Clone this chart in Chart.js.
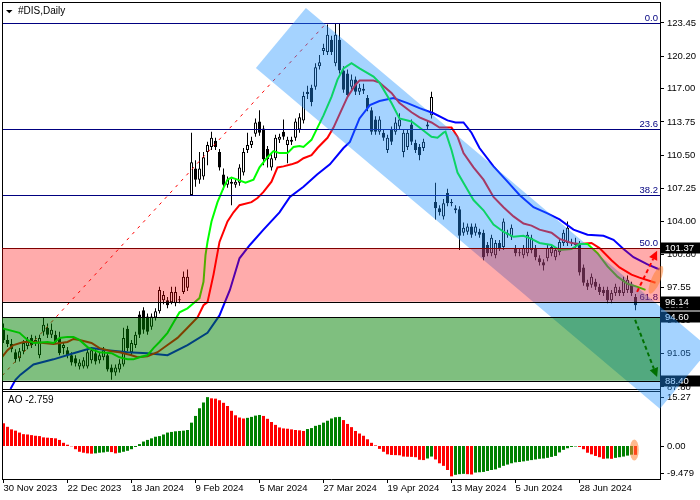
<!DOCTYPE html>
<html lang="en">
<head>
<meta charset="UTF-8" />
<title>#DIS,Daily</title>
<script src="https://cdn.jsdelivr.net/npm/chart.js"></script>
<style>
  html, body { margin: 0; padding: 0; background: #fff; }
  canvas { display: block; }
</style>
</head>
<body>
<canvas id="chart" width="700" height="500"></canvas>
<script>
// time axis: bar index of each labelled date
const dateTickBars = [0, 16, 32, 48, 64, 80, 96, 112, 128, 144];
const dateLabels = ["30 Nov 2023", "22 Dec 2023", "18 Jan 2024", "9 Feb 2024", "5 Mar 2024",
  "27 Mar 2024", "19 Apr 2024", "13 May 2024", "5 Jun 2024", "28 Jun 2024"];
const priceTicks = [123.45, 120.20, 117.00, 113.75, 110.50, 107.25, 104.00, 100.80, 97.55, 94.30, 91.05, 87.80];
const aoTicks = [15.27, 0, -9.479];
const aoTickLabels = ["15.27", "0.00", "-9.479"];

// daily candles
const opens = [
  93.6, 92.4, 92.0, 91.2, 90.6, 91.3, 91.8, 92.6, 92.1, 90.9,
  93.2, 93.6, 92.9, 92.9, 92.6, 91.6, 91.4, 90.9, 90.6, 89.8,
  89.8, 89.8, 90.4, 91.1, 90.4, 90.7, 90.9, 89.7, 89.2, 89.5,
  90.0, 93.5, 91.2, 91.9, 94.9, 95.3, 94.7, 93.7, 94.6, 95.2,
  96.3, 96.3, 96.1, 96.0, 96.3, 97.1, 97.5, 106.6, 109.2, 108.1,
  108.4, 110.8, 111.3, 111.9, 110.8, 108.6, 107.6, 107.9, 107.6, 107.8,
  108.8, 111.0, 111.5, 112.6, 113.8, 113.1, 111.1, 109.3, 110.2, 112.0,
  112.8, 111.5, 112.0, 112.2, 113.0, 113.9, 116.7, 117.1, 117.2, 119.2,
  120.7, 120.6, 121.8, 119.5, 121.8, 118.8, 118.5, 117.2, 117.9, 116.7,
  117.0, 116.1, 114.9, 114.0, 112.8, 112.7, 111.0, 113.0, 112.8, 113.3,
  110.8, 111.3, 113.5, 111.7, 111.3, 111.2, 113.3, 114.4, 105.9, 105.3,
  104.5, 106.8, 105.9, 105.3, 105.2, 102.9, 103.0, 103.5, 102.9, 103.0,
  102.9, 101.7, 100.9, 100.7, 101.9, 101.5, 102.9, 102.5, 101.4, 101.0,
  100.7, 100.9, 101.2, 101.4, 100.4, 100.0, 100.4, 100.9, 100.5, 101.0,
  101.9, 101.9, 102.0, 101.9, 101.9, 99.5, 98.0, 97.8, 98.1, 97.6,
  97.3, 97.3, 96.3, 97.0, 97.3, 97.0, 97.3, 97.8, 96.6
];
const highs = [
  94.0, 92.9, 92.5, 91.5, 91.6, 92.4, 92.7, 92.9, 92.8, 92.9,
  94.6, 94.0, 94.0, 93.3, 93.2, 92.1, 91.7, 91.2, 90.9, 90.5,
  90.7, 91.5, 91.7, 91.5, 91.2, 91.7, 91.2, 90.0, 90.0, 90.5,
  93.6, 93.8, 92.4, 93.2, 95.2, 95.6, 95.0, 95.0, 95.5, 97.6,
  97.2, 96.6, 97.6, 97.6, 96.7, 99.1, 99.3, 112.7, 110.0, 110.8,
  110.8, 111.8, 112.8, 112.2, 111.1, 109.2, 108.4, 108.2, 108.2, 109.6,
  111.2, 112.7, 112.3, 114.1, 114.9, 113.4, 111.4, 110.6, 112.5, 112.6,
  114.0, 112.3, 112.3, 114.1, 114.6, 116.7, 117.3, 117.4, 119.5, 120.3,
  121.4, 123.3, 122.2, 123.45, 123.45, 119.2, 118.9, 118.4, 118.2, 117.5,
  117.5, 116.4, 115.2, 114.3, 114.3, 113.0, 112.5, 113.3, 114.2, 114.6,
  113.0, 113.0, 114.0, 112.0, 111.6, 112.1, 113.9, 116.7, 107.8, 105.6,
  106.2, 107.2, 106.2, 105.6, 105.5, 103.9, 103.8, 103.8, 103.8, 103.3,
  103.2, 102.0, 102.7, 102.2, 102.2, 104.3, 103.2, 103.7, 101.7, 101.3,
  101.7, 103.0, 102.7, 101.7, 100.7, 100.3, 101.7, 101.8, 101.5, 102.3,
  103.2, 104.0, 102.3, 102.4, 102.1, 99.8, 98.3, 98.9, 98.4, 97.9,
  97.6, 97.6, 97.3, 97.9, 97.6, 98.6, 98.7, 98.1, 96.9
];
const lows = [
  92.1, 91.7, 91.2, 90.2, 90.3, 91.0, 91.5, 91.6, 91.8, 90.6,
  92.8, 92.6, 92.6, 92.0, 90.9, 91.0, 90.6, 89.9, 89.8, 89.5,
  89.6, 89.6, 90.1, 90.0, 90.1, 90.4, 89.3, 88.5, 88.9, 89.2,
  89.8, 91.3, 90.9, 91.6, 92.6, 93.0, 92.9, 93.4, 94.3, 95.0,
  95.9, 95.5, 95.9, 95.7, 96.0, 96.9, 97.2, 106.5, 107.4, 107.7,
  108.1, 109.5, 111.0, 111.0, 109.0, 107.1, 107.3, 105.6, 107.3, 107.5,
  108.5, 110.7, 111.2, 112.3, 112.4, 109.5, 109.3, 109.0, 110.0, 111.7,
  112.0, 109.7, 111.5, 111.9, 112.7, 113.6, 116.0, 115.3, 116.9, 118.9,
  120.3, 120.3, 120.3, 119.2, 118.5, 116.6, 116.1, 116.9, 116.4, 116.4,
  116.5, 114.8, 112.5, 112.5, 112.5, 111.9, 110.7, 111.5, 112.5, 113.0,
  110.3, 111.0, 111.5, 110.7, 110.0, 110.9, 113.0, 114.1, 104.2, 104.6,
  104.2, 105.5, 105.5, 104.8, 101.2, 102.6, 102.7, 102.4, 102.6, 102.4,
  100.2, 100.6, 100.6, 100.4, 101.1, 101.2, 102.4, 102.2, 100.6, 100.6,
  100.4, 100.6, 100.9, 100.2, 99.7, 99.2, 100.1, 100.6, 100.2, 100.7,
  101.6, 101.6, 101.6, 101.4, 98.7, 97.7, 97.3, 97.5, 97.3, 96.8,
  96.7, 96.0, 96.0, 96.7, 96.7, 96.7, 97.0, 96.7, 95.3
];
const closes = [
  92.4, 92.0, 91.5, 90.5, 91.3, 92.1, 92.4, 91.9, 92.4, 92.6,
  93.9, 92.9, 93.4, 92.2, 91.1, 91.9, 90.9, 90.2, 90.1, 90.2,
  90.4, 91.2, 91.4, 90.3, 90.9, 91.4, 89.5, 89.2, 89.7, 90.1,
  92.6, 91.6, 92.1, 92.9, 92.9, 93.4, 93.2, 94.7, 95.2, 97.3,
  96.8, 95.8, 97.1, 97.1, 96.3, 98.6, 98.6, 109.8, 108.1, 109.2,
  110.3, 111.5, 112.2, 111.3, 109.3, 107.6, 108.1, 107.7, 107.9, 109.3,
  110.8, 111.5, 111.9, 113.7, 112.7, 110.1, 110.1, 110.2, 112.2, 112.3,
  112.3, 112.0, 111.8, 113.8, 114.2, 116.3, 116.5, 115.7, 119.1, 119.6,
  121.0, 122.3, 120.6, 122.3, 118.8, 116.9, 116.4, 117.9, 116.7, 117.1,
  116.8, 115.1, 112.8, 112.8, 114.0, 112.2, 112.2, 111.8, 113.7, 114.0,
  112.7, 112.7, 111.8, 111.0, 110.5, 111.8, 113.5, 116.2, 105.3, 104.9,
  105.8, 105.8, 105.8, 105.1, 102.6, 103.4, 103.5, 102.7, 103.5, 102.7,
  100.5, 100.9, 102.4, 101.9, 101.4, 104.0, 102.7, 103.4, 100.9, 100.9,
  101.4, 102.7, 102.4, 100.5, 100.0, 99.7, 101.4, 101.5, 101.2, 102.0,
  102.9, 103.4, 101.9, 101.7, 99.0, 98.0, 97.6, 98.6, 97.6, 97.1,
  97.0, 96.3, 97.0, 97.6, 97.0, 98.3, 98.3, 97.0, 95.8
];

// Awesome Oscillator, one value per bar
const ao = [
  7.1, 6.0, 5.2, 4.8, 4.2, 3.7, 3.6, 3.4, 3.2, 3.1,
  2.7, 2.6, 2.5, 2.4, 1.9, 1.0, 0.4, -0.1, -1.0, -1.8,
  -2.1, -2.3, -2.4, -2.3, -2.1, -2.0, -1.8, -1.9, -2.3, -2.1,
  -1.8, -1.5, -1.0, -0.3, 0.6, 1.4, 1.9, 2.4, 2.9, 3.1,
  3.6, 4.2, 4.4, 4.6, 4.7, 4.8, 5.0, 7.3, 9.4, 11.8,
  13.6, 15.27, 14.9, 14.8, 14.3, 13.5, 12.5, 11.0, 9.6, 8.9,
  8.6, 8.8, 9.1, 9.5, 9.7, 9.4, 8.5, 7.5, 6.6, 5.8,
  5.5, 5.4, 5.2, 5.0, 4.9, 4.7, 5.3, 5.6, 6.3, 6.6,
  7.3, 7.9, 8.6, 9.0, 9.1, 8.1, 6.9, 5.9, 4.7, 3.9,
  3.2, 2.1, 1.0, 0.2, -0.9, -1.8, -2.6, -2.8, -2.85, -2.9,
  -3.3, -3.35, -3.4, -3.5, -4.3, -4.4, -3.9, -3.3, -4.2, -5.4,
  -6.2, -7.5, -9.479, -9.0, -8.8, -8.7, -8.8, -8.9, -8.3, -8.2,
  -8.1, -7.8, -7.5, -7.3, -6.8, -6.2, -5.8, -5.4, -5.1, -5.0,
  -4.8, -4.6, -4.4, -4.2, -4.0, -3.9, -3.7, -3.4, -3.1, -2.0,
  -1.2, -0.7, -0.3, -0.15, -0.3, -1.0, -2.1, -2.6, -3.1, -3.5,
  -4.0, -3.9, -4.0, -3.7, -3.5, -3.3, -3.0, -2.7, -2.759
];

// Alligator lines: [bar index, price]
const lips = [
  [-1, 93.6], [4, 93.1], [6, 92.4], [7.5, 92.1], [11, 92.2], [12.5, 92.1], [14, 92.6], [16, 92.7],
  [17.5, 92.7], [19, 92.4], [21, 91.7], [22.5, 91.4], [24, 91.2], [27, 91.1], [29, 90.7], [31, 90.5],
  [32.5, 90.5], [34, 90.7], [36, 90.9], [37.5, 91.6], [39, 92.2], [41, 93.1], [42.5, 94.1], [44, 95.1],
  [46, 95.5], [47.5, 96.0], [49, 96.5], [50, 98.1], [50.5, 100.7], [51, 102.0], [52, 104.0], [53.5, 105.9],
  [55, 107.3], [56, 108.1], [57, 108.3], [58.5, 108.1], [60.5, 107.8], [62.5, 108.1], [64, 109.3], [66, 110.3],
  [67.5, 110.9], [69, 110.7], [71, 110.7], [72.5, 111.3], [74, 111.4], [75, 111.3], [77, 112.0], [78.5, 113.2],
  [80, 114.4], [82, 116.2], [83.5, 117.9], [85, 119.0], [87, 119.5], [89, 119.0], [92.5, 118.2], [94, 117.6],
  [97, 115.6], [99, 114.1], [102, 113.8], [104, 113.2], [107, 112.3], [108.5, 112.2], [110, 112.7], [110.5, 112.8],
  [112, 111.0], [113.5, 108.8], [116, 107.1], [117.5, 106.1], [120, 105.1], [122.5, 103.7], [125, 103.0], [127.5, 102.5],
  [130, 102.6], [132, 102.3], [134, 101.9], [137, 101.7], [139, 101.2], [142, 101.3], [144, 101.8], [146, 101.8],
  [148.5, 100.9], [151, 99.6], [153.5, 98.6], [156, 97.9], [158.5, 97.6], [160.5, 97.3]
];
const teeth = [
  [-1, 90.4], [1, 91.4], [2.5, 91.9], [5, 92.2], [7.5, 92.2], [10, 92.1], [12.5, 92.0], [16, 92.2],
  [17.5, 92.5], [19, 92.4], [22, 92.1], [24, 91.6], [27, 91.3], [29, 91.2], [32, 90.9], [33.5, 90.7],
  [36, 90.8], [38.5, 91.2], [41, 91.9], [43.5, 92.6], [46, 93.6], [48.5, 94.6], [50, 95.8], [51, 96.1],
  [52.5, 98.8], [54, 102.0], [56, 104.0], [57.5, 104.9], [59, 105.6], [62, 105.9], [63.5, 106.3], [65, 106.9],
  [67, 107.9], [68.5, 109.3], [70, 109.4], [72, 109.6], [73.5, 109.8], [75, 110.2], [77, 110.5], [78.5, 111.2],
  [81, 112.2], [82.5, 113.2], [84, 114.5], [86, 116.2], [88, 117.4], [89, 117.8], [92.5, 117.8], [94, 117.6],
  [97, 116.6], [99, 115.6], [102, 114.7], [104, 114.2], [107, 113.7], [109, 113.2], [112, 113.2], [113.5, 112.3],
  [115, 110.7], [117.5, 109.3], [120, 108.1], [122.5, 106.4], [125, 105.4], [127.5, 104.5], [130, 103.8], [132, 103.6],
  [134, 103.2], [137, 102.9], [139, 102.3], [142, 101.9], [144, 101.8], [147, 101.9], [149, 101.4], [152, 100.2],
  [154, 99.5], [157, 98.8], [159, 98.5], [163, 98.0]
];
const jaw = [
  [1.75, 87.6], [3, 88.5], [4.25, 89.0], [7.5, 90.0], [12.5, 90.5], [17.5, 91.1], [22, 91.6], [26, 91.4],
  [31, 91.2], [36, 91.1], [41, 90.9], [46, 91.9], [51, 93.1], [54, 94.8], [56.6, 97.3], [59, 100.4],
  [61.6, 101.7], [65, 103.2], [69, 104.9], [71.6, 106.4], [75, 107.4], [78.4, 108.6], [81.6, 109.6], [85, 111.2],
  [86.6, 111.8], [89, 114.1], [91.6, 115.4], [94, 115.8], [97.5, 116.1], [101, 115.6], [104, 115.1], [107.5, 114.6],
  [111, 113.9], [113, 113.7], [115, 113.7], [117, 112.7], [119, 111.2], [122.5, 109.4], [126, 107.9], [129, 106.6],
  [132.5, 105.4], [136, 104.8], [139, 104.2], [142.5, 103.2], [146, 102.7], [150, 102.6], [152.5, 102.2], [155, 101.3],
  [157.5, 100.5], [161, 99.8], [164, 99.3]
];

// drawing objects on the chart
const fibHigh = 123.45;
const fibLow = 79.29;
const fibLevels = [0, 23.6, 38.2, 50, 61.8];
const fibTrend = [[-3, 87.76], [80.75, 123.45]];
const channel = [[75.6, 124.92], [63.1, 119.04], [164.1, 85.66], [176.6, 91.54]];
const sellZone = [96.14, 101.37];
const buyZone = [88.40, 94.60];
const priceBoxes = [95.84, 101.37, 96.14, 94.60, 88.40];
const upArrow = [[158.4, 97.11], [163.4, 101.13]];
const downArrow = [[157.9, 94.37], [163.4, 88.76]];
const priceMarker = [163.1, 98.29];
const aoMarker = [157.7, -1.25];
const priceFloor = 87.6;
const aoLast = -2.759;

const FONT = "'Liberation Sans', Arial, sans-serif";
Chart.defaults.font.family = FONT;
Chart.defaults.font.size = 9.5;
Chart.defaults.color = '#000';

const bars = opens.map((_, i) => i);
const toPts = arr => arr.map(([i, p]) => ({ x: i, y: p }));

function drawArrow(ctx, x0, y0, x1, y1, color) {
  const ang = Math.atan2(y1 - y0, x1 - x0);
  const head = 9;
  const bx = x1 - head * Math.cos(ang), by = y1 - head * Math.sin(ang);
  ctx.save();
  ctx.strokeStyle = color;
  ctx.fillStyle = color;
  ctx.lineWidth = 2;
  ctx.setLineDash([4, 3]);
  ctx.beginPath(); ctx.moveTo(x0, y0); ctx.lineTo(bx, by); ctx.stroke();
  ctx.setLineDash([]);
  ctx.beginPath();
  ctx.moveTo(x1, y1);
  ctx.lineTo(bx + 4.5 * Math.sin(ang), by - 4.5 * Math.cos(ang));
  ctx.lineTo(bx - 4.5 * Math.sin(ang), by + 4.5 * Math.cos(ang));
  ctx.closePath();
  ctx.fill();
  ctx.restore();
}

const overlay = {
  id: 'overlay',
  afterDraw(chart) {
    const { ctx, chartArea: a, scales } = chart;
    const px = v => scales.x.getPixelForValue(v);
    const py = v => scales.y.getPixelForValue(v);
    const pao = v => scales.yAO.getPixelForValue(v);
    const crisp = v => Math.round(v) + 0.5;
    const mainBottom = Math.round(py(priceFloor));
    const aoTop = mainBottom + 2;
    const font = '9.5px ' + FONT;
    const clipMain = () => {
      ctx.beginPath();
      ctx.rect(a.left, a.top, a.right - a.left, mainBottom - a.top);
      ctx.clip();
    };

    // fibonacci levels + trend line
    ctx.save();
    clipMain();
    ctx.lineWidth = 1;
    ctx.strokeStyle = '#000080';
    ctx.fillStyle = '#000080';
    ctx.font = font;
    ctx.textAlign = 'right';
    fibLevels.forEach(lv => {
      const yy = crisp(py(fibHigh - lv / 100 * (fibHigh - fibLow)));
      ctx.beginPath(); ctx.moveTo(a.left, yy); ctx.lineTo(a.right, yy); ctx.stroke();
      ctx.fillText(lv.toFixed(1), a.right - 2, yy - 2.5);
    });
    ctx.strokeStyle = '#ff0000';
    ctx.setLineDash([3, 5]);
    ctx.beginPath();
    ctx.moveTo(px(fibTrend[0][0]), py(fibTrend[0][1]));
    ctx.lineTo(px(fibTrend[1][0]), py(fibTrend[1][1]));
    ctx.stroke();
    ctx.restore();

    // panel frames
    ctx.save();
    ctx.strokeStyle = '#000';
    ctx.lineWidth = 1;
    ctx.beginPath();
    ctx.moveTo(crisp(a.left), a.top); ctx.lineTo(crisp(a.left), a.bottom);
    ctx.moveTo(a.left, crisp(a.top)); ctx.lineTo(a.right, crisp(a.top));
    ctx.moveTo(a.left, mainBottom + 0.5); ctx.lineTo(a.right, mainBottom + 0.5);
    ctx.moveTo(a.left, aoTop + 0.5); ctx.lineTo(a.right, aoTop + 0.5);
    ctx.stroke();

    // AO scale
    ctx.font = font;
    ctx.fillStyle = '#000';
    ctx.textAlign = 'left';
    ctx.textBaseline = 'middle';
    aoTicks.forEach((v, k) => {
      const yy = Math.min(pao(v), a.bottom - 6);
      ctx.beginPath(); ctx.moveTo(a.right, crisp(yy)); ctx.lineTo(a.right + 4, crisp(yy)); ctx.stroke();
      ctx.fillText(aoTickLabels[k], a.right + 7, yy);
    });

    // price boxes
    priceBoxes.forEach(p => {
      const yy = Math.round(py(p));
      ctx.fillStyle = '#000';
      ctx.fillRect(a.right + 1, yy - 5.5, 40, 11);
      ctx.fillStyle = '#fff';
      ctx.fillText(p.toFixed(2), a.right + 5, yy);
    });
    ctx.restore();

    // regression channel
    ctx.save();
    ctx.fillStyle = 'rgba(30,144,255,0.4)';
    ctx.beginPath();
    channel.forEach(([i, p], k) => k ? ctx.lineTo(px(i), py(p)) : ctx.moveTo(px(i), py(p)));
    ctx.closePath();
    ctx.fill();
    ctx.restore();

    // zones
    ctx.save();
    clipMain();
    const zone = (z, color) => {
      const y0 = py(z[1]), y1 = py(z[0]);
      ctx.fillStyle = color;
      ctx.fillRect(a.left, y0, a.right - a.left, y1 - y0);
    };
    zone(sellZone, 'rgba(255,0,0,0.33)');
    zone(buyZone, 'rgba(0,128,0,0.5)');
    const hline = (p, color) => {
      const yy = crisp(py(p));
      ctx.strokeStyle = color;
      ctx.beginPath(); ctx.moveTo(a.left, yy); ctx.lineTo(a.right, yy); ctx.stroke();
    };
    ctx.lineWidth = 1;
    hline(sellZone[1], '#800000');
    hline(sellZone[0], '#000');
    hline(buyZone[1], '#000');
    hline(buyZone[0], '#000');
    ctx.restore();

    // arrows and highlight markers
    drawArrow(ctx, px(upArrow[0][0]), py(upArrow[0][1]), px(upArrow[1][0]), py(upArrow[1][1]), '#ff0000');
    drawArrow(ctx, px(downArrow[0][0]), py(downArrow[0][1]), px(downArrow[1][0]), py(downArrow[1][1]), '#007000');
    ctx.save();
    ctx.fillStyle = 'rgba(255,130,50,0.55)';
    ctx.beginPath();
    ctx.ellipse(px(priceMarker[0]), py(priceMarker[1]), 15, 4.5, Math.atan2(-27, 12), 0, Math.PI * 2);
    ctx.fill();
    ctx.beginPath();
    ctx.ellipse(px(aoMarker[0]), pao(aoMarker[1]), 4.5, 10.5, 0, 0, Math.PI * 2);
    ctx.fill();
    ctx.restore();

    // titles
    ctx.save();
    ctx.fillStyle = '#000';
    ctx.beginPath();
    ctx.moveTo(6, 10); ctx.lineTo(12.5, 10); ctx.lineTo(9.25, 13.2); ctx.closePath();
    ctx.fill();
    ctx.font = '10px ' + FONT;
    ctx.textAlign = 'left';
    ctx.textBaseline = 'alphabetic';
    ctx.fillText('#DIS,Daily', 18, 14);
    ctx.fillText('AO ' + aoLast.toFixed(3), 8, aoTop + 12);
    ctx.restore();
  }
};

new Chart(document.getElementById('chart').getContext('2d'), {
  type: 'bar',
  data: {
    datasets: [
      {
        label: 'AO',
        yAxisID: 'yAO',
        order: 5,
        data: ao.map((v, i) => ({ x: i, y: v })),
        backgroundColor: ao.map((v, i) => (i > 0 && v > ao[i - 1]) ? '#008000' : '#ff0000'),
        barThickness: 3,
        inflateAmount: 0,
        grouped: false
      },
      {
        label: 'wicks',
        order: 4,
        data: bars.map(i => ({ x: i, y: [lows[i], highs[i]] })),
        backgroundColor: '#000',
        barThickness: 1,
        inflateAmount: 0,
        grouped: false
      },
      {
        label: 'bodies',
        order: 3,
        data: bars.map(i => ({ x: i, y: [opens[i], closes[i]] })),
        backgroundColor: bars.map(i => closes[i] >= opens[i] ? '#fff' : '#000'),
        borderColor: '#000',
        borderWidth: 1,
        borderSkipped: false,
        minBarLength: 1,
        barThickness: 3,
        inflateAmount: 0,
        grouped: false
      },
      { type: 'line', label: 'jaw', order: 2, data: toPts(jaw), borderColor: '#0000ff', borderWidth: 2, pointRadius: 0, tension: 0 },
      { type: 'line', label: 'teeth', order: 1, data: toPts(teeth), borderColor: '#ff0000', borderWidth: 2, pointRadius: 0, tension: 0 },
      { type: 'line', label: 'lips', order: 0, data: toPts(lips), borderColor: '#00ff00', borderWidth: 2, pointRadius: 0, tension: 0 }
    ]
  },
  options: {
    responsive: false,
    animation: false,
    devicePixelRatio: 1,
    events: [],
    layout: { padding: { left: 2, top: 2, right: 0, bottom: 0 } },
    plugins: { legend: { display: false }, tooltip: { enabled: false } },
    scales: {
      x: {
        type: 'linear',
        min: -0.375,
        max: 164.125,
        offset: false,
        afterBuildTicks: s => { s.ticks = dateTickBars.map(v => ({ value: v })); },
        afterFit: s => { s.height = 21; s.paddingLeft = 0; s.paddingRight = 0; },
        ticks: {
          autoSkip: false,
          maxRotation: 0,
          align: 'start',
          padding: 0,
          callback: v => dateLabels[dateTickBars.indexOf(v)]
        },
        grid: { offset: false, drawOnChartArea: false, tickLength: 4, color: '#000' },
        border: { display: true, color: '#000' }
      },
      y: {
        type: 'linear',
        position: 'right',
        min: 78.78,
        max: 125.5,
        afterBuildTicks: s => { s.ticks = priceTicks.map(v => ({ value: v })); },
        afterFit: s => { s.width = 40; s.paddingTop = 0; s.paddingBottom = 0; },
        ticks: { autoSkip: false, padding: 3, callback: v => v.toFixed(2) },
        grid: { drawOnChartArea: false, tickLength: 4, color: '#000' },
        border: { display: true, color: '#000' }
      },
      yAO: {
        type: 'linear',
        display: false,
        min: -10.31,
        max: 138.75
      }
    }
  },
  plugins: [overlay]
});
</script>
</body>
</html>
